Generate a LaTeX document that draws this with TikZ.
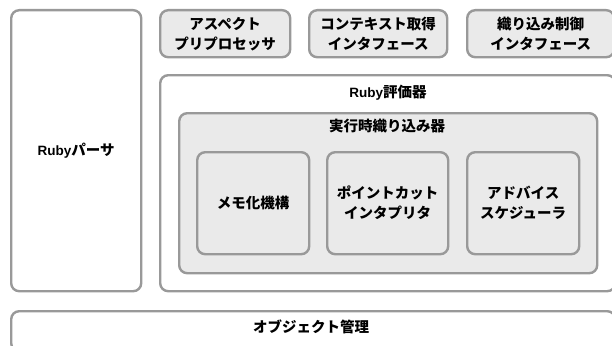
\documentclass[tikz,border=0pt]{standalone}
\usepackage{fontspec}
\setmainfont{Noto Sans CJK JP}
\newfontfamily\latf{Liberation Sans}
\definecolor{edge}{HTML}{999999}
\definecolor{boxfill}{HTML}{EAEAEA}
\newcommand{\Rb}{{\latf\bfseries\fontsize{13.5}{20}\selectfont Ruby}}
\begin{document}
\begin{tikzpicture}[x=1pt,y=-1pt,
  box/.style={draw=edge, line width=2.4pt, rounded corners=8pt, anchor=north west, inner sep=0pt, align=center, font=\fontsize{14.5}{20}\selectfont\bfseries},
  wbox/.style={box, fill=white},
  gbox/.style={box, fill=boxfill},
  lbl/.style={inner sep=0pt, font=\fontsize{14.5}{20}\selectfont\bfseries}]
\useasboundingbox (0,0) rectangle (612,345);
\node[wbox, minimum width=130pt, minimum height=281pt] (parser) at (10,9) {\Rb パーサ};
\node[gbox, minimum width=130pt, minimum height=47pt] (aspect) at (159,9) {アスペクト\\プリプロセッサ};
\node[gbox, minimum width=138pt, minimum height=47pt] (ctx) at (308,9) {コンテキスト取得\\インタフェース};
\node[gbox, minimum width=147pt, minimum height=47pt] (weave) at (466,9) {織り込み制御\\インタフェース};
\node[wbox, minimum width=455pt, minimum height=216pt] (eval) at (159,74) {};
\node[lbl] (evallbl) at (388,93) {\Rb 評価器};
\node[gbox, minimum width=418pt, minimum height=160pt] (rt) at (178,112) {};
\node[lbl] (rtlbl) at (387,126) {実行時織り込み器};
\node[gbox, minimum width=112pt, minimum height=102pt] (memo) at (196,151) {メモ化機構};
\node[gbox, minimum width=121pt, minimum height=102pt] (pc) at (326,151) {ポイントカット\\インタプリタ};
\node[gbox, minimum width=112pt, minimum height=102pt] (adv) at (466,151) {アドバイス\\スケジューラ};
\node[wbox, minimum width=604pt, minimum height=40pt] (obj) at (10,310) {};
\node[lbl] (objlbl) at (311,327) {オブジェクト管理};
\end{tikzpicture}
\end{document}
